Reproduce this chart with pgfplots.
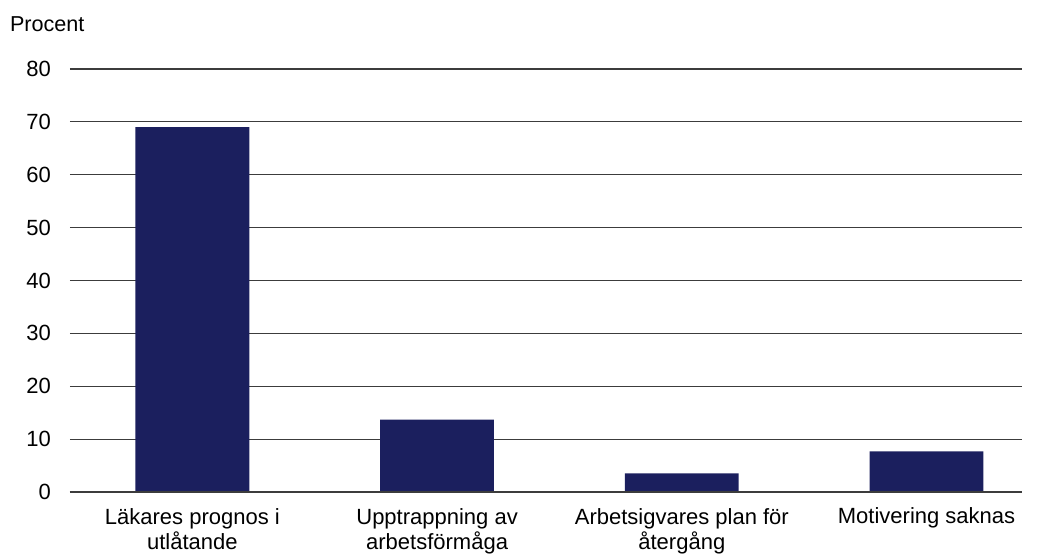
\documentclass[border=0pt]{standalone}
\usepackage{pgfplots}
\pgfplotsset{compat=1.18}
\usepackage{fontspec}
\setmainfont{Liberation Sans}
\definecolor{navy}{RGB}{27,31,94}
\definecolor{gridgray}{RGB}{60,60,60}
\begin{document}
\begin{tikzpicture}
\useasboundingbox (-35pt,-31.5pt) rectangle (485pt,246pt);
\begin{axis}[
  at={(0,0)}, anchor=south west,
  scale only axis,
  width=476pt, height=211.5pt,
  xmin=-0.5, xmax=3.39,
  ymin=0, ymax=80,
  ytick={0,10,...,80},
  xtick={0,1,2,3},
  xticklabels={{Läkares prognos i\\utlåtande},{Upptrappning av\\arbetsförmåga},{Arbetsigvares plan för\\återgång},{Motivering saknas}},
  xticklabel style={align=center, font=\fontsize{11pt}{13pt}\selectfont, yshift=-4.5pt},
  yticklabel style={font=\fontsize{11pt}{13pt}\selectfont, xshift=-6pt},
  /pgf/number format/assume math mode=true,
  major tick length=0pt,
  axis line style={draw=none},
  ymajorgrids,
  major grid style={gridgray, line width=0.55pt},
  clip=false,
]
\addplot[ybar, bar width=0.465, fill=navy, draw=none] coordinates {
  (0,69.0) (1,13.7) (2,3.5) (3,7.7)
};
\draw[gridgray, line width=0.9pt] (axis cs:-0.5,0) -- (axis cs:3.39,0);
\end{axis}
\node[anchor=west, font=\fontsize{10.8pt}{12pt}\selectfont] at (-33.5pt,234pt) {Procent};
\end{tikzpicture}
\end{document}
